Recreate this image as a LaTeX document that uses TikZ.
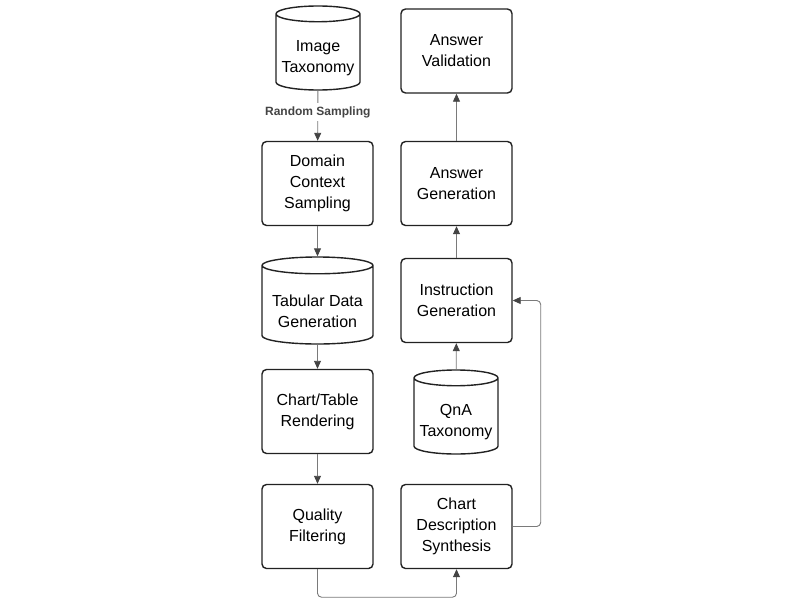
\documentclass[tikz,border=0pt]{standalone}
\usepackage{fontspec}
\setmainfont{Liberation Sans}
\usetikzlibrary{arrows.meta,shapes.geometric}
\definecolor{boxline}{HTML}{222222}
\definecolor{flowline}{HTML}{7A7A7A}
\definecolor{flowtip}{HTML}{444444}
\definecolor{labeltext}{HTML}{444444}
\tikzset{
 stepbox/.style={draw=boxline, line width=1.4pt, rounded corners=4.5pt, fill=white,
   minimum width=111pt, minimum height=84pt, align=center, font=\fontsize{16}{21}\selectfont},
 store/.style={cylinder, shape border rotate=90, draw=boxline, line width=1.4pt, fill=white,
   aspect=0.2, anchor=shape center},
 storetext/.style={align=center, font=\fontsize{16}{21}\selectfont},
 flow/.style={draw=flowline, line width=0.9pt, -{Triangle[length=8pt,width=7pt,color=flowtip]}},
}
\begin{document}
\begin{tikzpicture}[x=1pt, y=-1pt]
\useasboundingbox (0,0) rectangle (800,600);
% left column
\node[store, minimum width=84pt, minimum height=84pt] (img) at (318,48) {\rule{72pt}{0pt}};
\node[storetext] (img-text) at ([yshift=-10.5pt]img.shape center) {Image\\Taxonomy};
\node[stepbox] (dom) at (317.5,183.5) {Domain\\Context\\Sampling};
\node[store, aspect=0.17, minimum width=111pt, minimum height=87pt] (tab) at (317.5,300.5) {\rule{92pt}{0pt}};
\node[storetext] (tab-text) at ([yshift=-10.5pt]tab.shape center) {Tabular Data\\Generation};
\node[stepbox] (rend) at (317.5,411.5) {Chart/Table\\Rendering};
\node[stepbox] (qual) at (317.5,526.5) {Quality\\Filtering};
% right column
\node[stepbox] (val) at (456.5,51) {Answer\\Validation};
\node[stepbox] (ansgen) at (456.5,183.5) {Answer\\Generation};
\node[stepbox] (instr) at (456.5,300.5) {Instruction\\Generation};
\node[store, minimum width=84pt, minimum height=84pt] (qna) at (456,412) {\rule{72pt}{0pt}};
\node[storetext] (qna-text) at ([yshift=-10.5pt]qna.shape center) {QnA\\Taxonomy};
\node[stepbox] (desc) at (456.5,526.5) {Chart\\Description\\Synthesis};
% connectors
\draw[flow] (img) -- node[pos=.43, fill=white, text=labeltext, font=\fontsize{12}{14}\selectfont\bfseries] {Random Sampling} (dom);
\draw[flow] (dom) -- (tab);
\draw[flow] (tab) -- (rend);
\draw[flow] (rend) -- (qual);
\draw[flow, rounded corners=4pt] (qual.south) -- ++(0,28) -| (desc.south);
\draw[flow, rounded corners=4pt] (desc.east) -- ++(28,0) |- (instr.east);
\draw[flow] (qna) -- (instr);
\draw[flow] (instr) -- (ansgen);
\draw[flow] (ansgen) -- (val);
\end{tikzpicture}
\end{document}
